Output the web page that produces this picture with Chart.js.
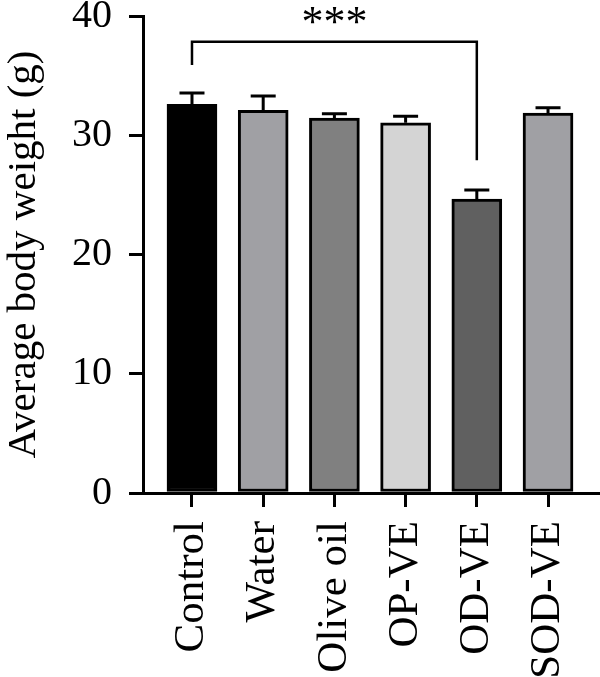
<!DOCTYPE html>
<html>
<head>
<meta charset="utf-8">
<script src="https://cdn.jsdelivr.net/npm/chart.js@4.4.1/dist/chart.umd.min.js"></script>
<style>
html,body{margin:0;padding:0;background:#fff;}
#wrap{width:600px;height:677px;position:relative;}
</style>
</head>
<body>
<div id="wrap"><canvas id="c" width="600" height="677"></canvas></div>
<script>
// ---- data ----
const categories = ["Control", "Water", "Olive oil", "OP-VE", "OD-VE", "SOD-VE"];
const means = [32.6, 32.1, 31.45, 31.05, 24.65, 31.85];
const sems = [0.95, 1.2, 0.35, 0.55, 0.75, 0.45];
const barColors = ["#000000", "#a0a0a4", "#808080", "#d4d4d4", "#606060", "#a0a0a4"];
const yTicks = [0, 10, 20, 30, 40];
// significance bracket between Control and OD-VE
const bracketFrom = 0;
const bracketTo = 4;
const bracketLevels = [37.85, 35.9, 27.9]; // line, left end, right end
const bracketLabel = "***";

const FONT = "'Liberation Serif', 'Times New Roman', serif";

const errorBarPlugin = {
  id: 'errorBars',
  afterDatasetsDraw(chart) {
    const ctx = chart.ctx;
    const xs = chart.scales.x, ys = chart.scales.y;
    ctx.save();
    ctx.strokeStyle = '#000';
    ctx.lineWidth = 3;
    ctx.lineCap = 'butt';
    means.forEach((m, i) => {
      const x = xs.getPixelForValue(i);
      const y0 = ys.getPixelForValue(m);
      const y1 = ys.getPixelForValue(m + sems[i]);
      ctx.beginPath();
      ctx.moveTo(x, y0);
      ctx.lineTo(x, y1);
      ctx.moveTo(x - 12.5, y1);
      ctx.lineTo(x + 12.5, y1);
      ctx.stroke();
    });
    // bracket
    const xa = xs.getPixelForValue(bracketFrom);
    const xb = xs.getPixelForValue(bracketTo);
    const yl = ys.getPixelForValue(bracketLevels[0]);
    const ya = ys.getPixelForValue(bracketLevels[1]);
    const yb = ys.getPixelForValue(bracketLevels[2]);
    ctx.lineWidth = 2.5;
    ctx.lineJoin = 'miter';
    ctx.beginPath();
    ctx.moveTo(xa, ya);
    ctx.lineTo(xa, yl);
    ctx.lineTo(xb, yl);
    ctx.lineTo(xb, yb);
    ctx.stroke();
    ctx.fillStyle = '#000';
    ctx.font = "44px " + FONT;
    ctx.textAlign = 'center';
    ctx.textBaseline = 'alphabetic';
    ctx.fillText(bracketLabel, (xa + xb) / 2, yl - 6);
    ctx.restore();
  }
};

new Chart(document.getElementById('c'), {
  type: 'bar',
  data: {
    datasets: [{
      data: categories.map((c, i) => ({x: i, y: means[i]})),
      backgroundColor: barColors,
      borderColor: '#000',
      borderWidth: 3,
      borderSkipped: false,
      barThickness: 50
    }]
  },
  options: {
    responsive: false,
    animation: false,
    events: [],
    layout: { padding: 0 },
    plugins: { legend: { display: false }, tooltip: { enabled: false } },
    scales: {
      x: {
        type: 'linear',
        offset: false,
        min: -0.688,
        max: 5.73,
        afterFit(scale) { scale.height = 184; scale.paddingLeft = 0; scale.paddingRight = 0; },
        ticks: {
          stepSize: 1,
          includeBounds: false,
          autoSkip: false,
          minRotation: 90,
          maxRotation: 90,
          padding: 14,
          color: '#000',
          font: { family: FONT, size: 43 },
          callback: (v) => categories[v] !== undefined ? categories[v] : ''
        },
        grid: { offset: false, drawOnChartArea: false, drawTicks: true, tickLength: 14, tickColor: '#000', tickWidth: 3, color: '#000', lineWidth: 3 },
        border: { display: true, color: '#000', width: 3 }
      },
      y: {
        min: 0,
        max: 40,
        afterFit(scale) { scale.width = 143; scale.paddingTop = 16; scale.paddingBottom = 0; },
        afterBuildTicks(scale) { scale.ticks = yTicks.map(v => ({value: v})); },
        ticks: {
          stepSize: 10,
          padding: 17,
          color: '#000',
          font: { family: FONT, size: 40 }
        },
        grid: { drawOnChartArea: false, drawTicks: true, tickLength: 14, tickColor: '#000', tickWidth: 3, color: '#000', lineWidth: 3 },
        border: { display: true, color: '#000', width: 3 },
        title: {
          display: true,
          text: 'Average body weight (g)',
          color: '#000',
          padding: 0,
          font: { family: FONT, size: 41, lineHeight: 1.2 }
        }
      }
    }
  },
  plugins: [errorBarPlugin]
});
</script>
</body>
</html>
